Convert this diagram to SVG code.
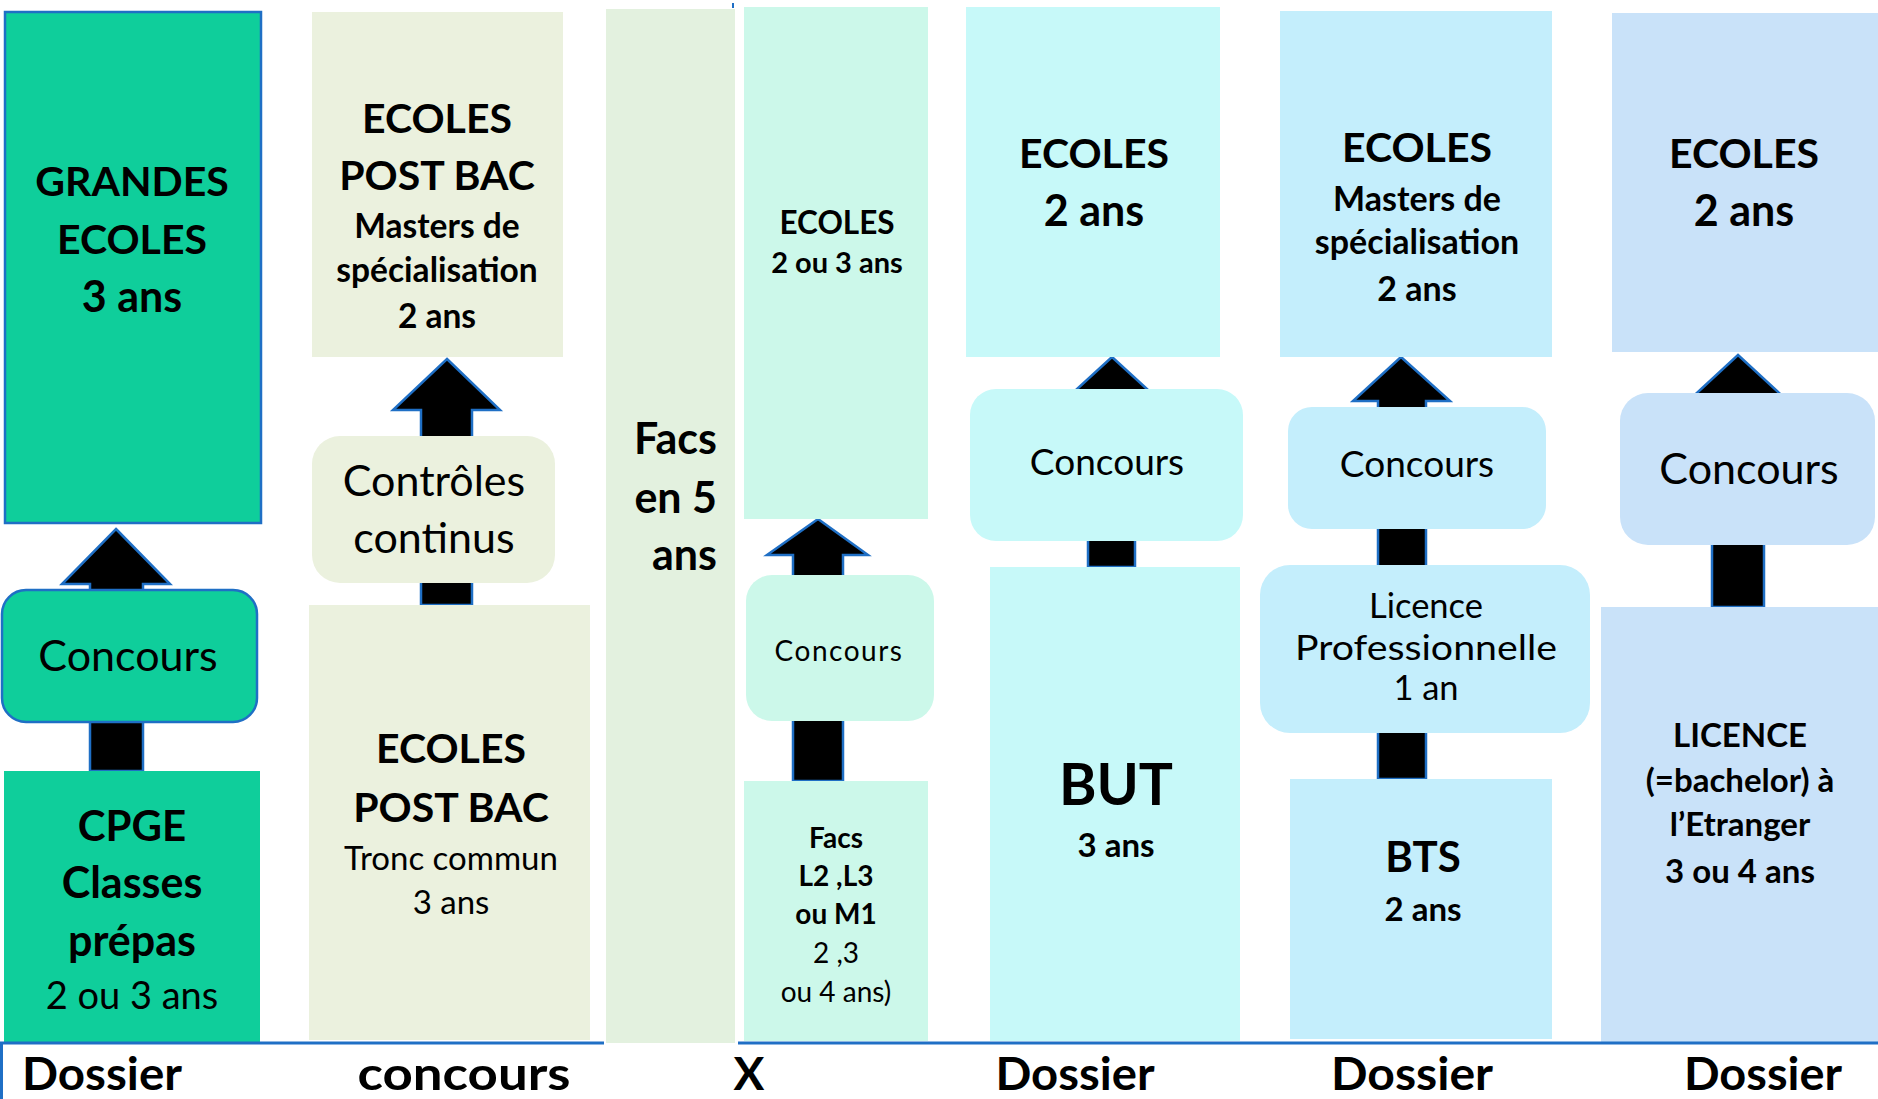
<svg xmlns="http://www.w3.org/2000/svg" width="1878" height="1099" viewBox="0 0 1878 1099">
<style>
text{font-family:Lato,"Open Sans","DejaVu Sans",sans-serif;fill:#000;text-anchor:middle}
.b{font-weight:bold}
.arr{fill:#000;stroke:#1F6FC5;stroke-width:2.5;stroke-linejoin:miter}
.g{fill:#0FCE9B}
.gb{fill:#0FCE9B;stroke:#1F6FC5;stroke-width:2.5}
.beige{fill:#EBF1DE}
.facs{fill:#E3F1DF}
.mint{fill:#CCF8EA}
.cyan{fill:#C7F9F9}
.lb{fill:#C4EEFC}
.bl{fill:#C9E2F9}
.lab{font-weight:bold;font-size:46px}
</style>
<rect width="1878" height="1099" fill="#fff"/>
<g id="connectors">
<path class="arr" d="M116,529 L170,584 L143,584 L143,771 L90,771 L90,584 L62,584 Z"/>
<path class="arr" d="M447,359 L500,410 L472,410 L472,605 L421,605 L421,410 L393,410 Z"/>
<path class="arr" d="M818,519 L868,555 L843,555 L843,781 L793,781 L793,555 L767,555 Z"/>
<path class="arr" d="M1112,357 L1159,400 L1135,400 L1135,567 L1088,567 L1088,400 L1065,400 Z"/>
<path class="arr" d="M1401,357 L1450,401 L1426,401 L1426,779 L1378,779 L1378,401 L1353,401 Z"/>
<path class="arr" d="M1738,355 L1790,403 L1764,403 L1764,607 L1712,607 L1712,403 L1686,403 Z"/>
</g>
<g id="grandes-ecoles">
<rect class="gb" x="5" y="12" width="256" height="511"/>
<text class="b" font-size="41"><tspan x="132" y="196">GRANDES</tspan><tspan x="132" y="254">ECOLES</tspan></text>
<text class="b" font-size="43" x="132" y="312">3 ans</text>
</g>
<g id="concours-1">
<rect class="gb" x="2" y="590" width="255" height="132" rx="24"/>
<text font-size="43" x="128" y="671">Concours</text>
</g>
<g id="cpge">
<rect class="g" x="4" y="771" width="256" height="272"/>
<text class="b" font-size="42"><tspan x="132" y="841">CPGE</tspan></text>
<text class="b" font-size="43"><tspan x="132" y="898">Classes</tspan><tspan x="132" y="956">prépas</tspan></text>
<text font-size="38" x="132" y="1009">2 ou 3 ans</text>
</g>
<g id="ecoles-postbac-masters">
<rect class="beige" x="312" y="12" width="251" height="345"/>
<text class="b" font-size="41"><tspan x="437" y="133">ECOLES</tspan><tspan x="437" y="190">POST BAC</tspan></text>
<text class="b" font-size="33.5"><tspan x="437" y="238">Masters de</tspan><tspan x="437" y="282">spécialisation</tspan><tspan x="437" y="328">2 ans</tspan></text>
</g>
<g id="controles">
<rect class="beige" x="312" y="436" width="243" height="147" rx="28"/>
<text font-size="43"><tspan x="434" y="496">Contrôles</tspan><tspan x="434" y="553">continus</tspan></text>
</g>
<g id="ecoles-postbac-tronc">
<rect class="beige" x="309" y="605" width="281" height="435"/>
<text class="b" font-size="41"><tspan x="451" y="763">ECOLES</tspan><tspan x="451" y="822">POST BAC</tspan></text>
<text font-size="33"><tspan x="451" y="870">Tronc commun</tspan><tspan x="451" y="914">3 ans</tspan></text>
</g>
<g id="facs5">
<rect class="facs" x="606" y="9" width="129" height="1034"/>
<text class="b" font-size="43" style="text-anchor:end"><tspan x="717" y="454">Facs</tspan><tspan x="717" y="513">en 5</tspan><tspan x="717" y="570">ans</tspan></text>
<rect x="732" y="3" width="2" height="5" fill="#1F6FC5"/>
</g>
<g id="ecoles-2ou3">
<rect class="mint" x="744" y="7" width="184" height="512"/>
<text class="b" x="837" y="234" font-size="31.5">ECOLES</text>
<text class="b" x="837" y="273" font-size="29">2 ou 3 ans</text>
</g>
<g id="concours-4">
<rect class="mint" x="746" y="575" width="188" height="146" rx="26"/>
<text x="839" y="661" font-size="28" letter-spacing="1.5">Concours</text>
</g>
<g id="facs-l2">
<rect class="mint" x="744" y="781" width="184" height="260"/>
<text class="b" font-size="28"><tspan x="836" y="848">Facs</tspan><tspan x="836" y="886">L2 ,L3</tspan><tspan x="836" y="924">ou M1</tspan></text>
<text font-size="28"><tspan x="836" y="963">2 ,3</tspan><tspan x="836" y="1002">ou 4 ans)</tspan></text>
</g>
<g id="ecoles-2ans-a">
<rect class="cyan" x="966" y="7" width="254" height="350"/>
<text class="b" x="1094" y="168" font-size="41">ECOLES</text>
<text class="b" x="1094" y="226" font-size="43">2 ans</text>
</g>
<g id="concours-5">
<rect class="cyan" x="970" y="389" width="273" height="152" rx="26"/>
<text x="1107" y="475" font-size="37">Concours</text>
</g>
<g id="but">
<rect class="cyan" x="990" y="567" width="250" height="474"/>
<text class="b" x="1116" y="805" font-size="57">BUT</text>
<text class="b" x="1116" y="857" font-size="33">3 ans</text>
</g>
<g id="ecoles-masters-b">
<rect class="lb" x="1280" y="11" width="272" height="346"/>
<text class="b" x="1417" y="162" font-size="41">ECOLES</text>
<text class="b" font-size="34"><tspan x="1417" y="211">Masters de</tspan><tspan x="1417" y="254">spécialisation</tspan><tspan x="1417" y="301">2 ans</tspan></text>
</g>
<g id="concours-6">
<rect class="lb" x="1288" y="407" width="258" height="122" rx="24"/>
<text x="1417" y="477" font-size="37">Concours</text>
</g>
<g id="licence-pro">
<rect class="lb" x="1260" y="565" width="330" height="168" rx="30"/>
<text font-size="34.5"><tspan x="1426" y="618">Licence</tspan><tspan x="1426" y="660" textLength="262" lengthAdjust="spacingAndGlyphs">Professionnelle</tspan><tspan x="1426" y="700">1 an</tspan></text>
</g>
<g id="bts">
<rect class="lb" x="1290" y="779" width="262" height="260"/>
<text class="b" x="1423" y="872" font-size="42">BTS</text>
<text class="b" x="1423" y="921" font-size="33">2 ans</text>
</g>
<g id="ecoles-2ans-c">
<rect class="bl" x="1612" y="13" width="266" height="339"/>
<text class="b" x="1744" y="168" font-size="41">ECOLES</text>
<text class="b" x="1744" y="226" font-size="43">2 ans</text>
</g>
<g id="concours-7">
<rect class="bl" x="1620" y="393" width="255" height="152" rx="28"/>
<text x="1749" y="484" font-size="43">Concours</text>
</g>
<g id="licence-etranger">
<rect class="bl" x="1601" y="607" width="277" height="436"/>
<text class="b" font-size="33"><tspan x="1740" y="747">LICENCE</tspan><tspan x="1740" y="792">(=bachelor) à</tspan><tspan x="1740" y="836">l’Etranger</tspan><tspan x="1740" y="883">3 ou 4 ans</tspan></text>
</g>
<g id="baseline">
<path d="M0,1043 H604 M738,1043 H1878 M1.5,1043 V1099" stroke="#1F6FC5" stroke-width="3" fill="none"/>
<text class="lab" x="102" y="1090" textLength="160" lengthAdjust="spacingAndGlyphs">Dossier</text>
<text class="lab" x="464" y="1090" textLength="213" lengthAdjust="spacingAndGlyphs">concours</text>
<text class="lab" x="749" y="1090">X</text>
<text class="lab" x="1075" y="1090" textLength="159" lengthAdjust="spacingAndGlyphs">Dossier</text>
<text class="lab" x="1412" y="1090" textLength="162" lengthAdjust="spacingAndGlyphs">Dossier</text>
<text class="lab" x="1763" y="1090" textLength="158" lengthAdjust="spacingAndGlyphs">Dossier</text>
</g>
</svg>
